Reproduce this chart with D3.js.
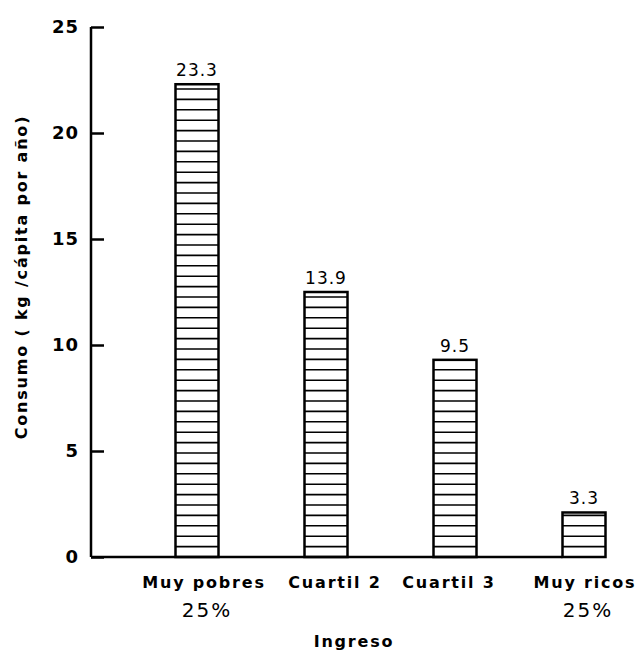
<!DOCTYPE html>
<html lang="es">
<head>
    <meta charset="UTF-8">
    <title>Consumo por ingreso</title>
    <script src="https://d3js.org/d3.v7.min.js"></script>
    <style>
        body { margin: 0; background: #fff; }
        text { font-family: "DejaVu Sans", "Liberation Sans", sans-serif; fill: #000; }
    </style>
</head>
<body>
<div id="chart"></div>
<script>
    // categories and values
    var categories = ["Muy pobres", "Cuartil 2", "Cuartil 3", "Muy ricos"];
    var subLabels = ["25%", "", "", "25%"];
    var printedValues = ["23.3", "13.9", "9.5", "3.3"];   // numbers written over the bars
    var barHeights = [22.3, 12.5, 9.3, 2.1];              // bar tops as drawn
    var yTicks = [0, 5, 10, 15, 20, 25];

    var width = 637, height = 650;

    var svg = d3.select("#chart").append("svg")
        .attr("width", width)
        .attr("height", height);

    var y = d3.scaleLinear().domain([0, 25]).range([557, 27]);
    var x = d3.scalePoint().domain(categories).range([197, 584]);
    var barW = 43;
    var axisX = 91;

    // y axis with ticks pointing inward
    var yAxis = d3.axisRight(y).tickValues(yTicks).tickSize(13).tickFormat("");
    var gy = svg.append("g").attr("transform", "translate(" + axisX + ",0)").call(yAxis);
    gy.select(".domain").attr("d", "M0," + y(25) + "V" + y(0)).attr("stroke", "#000").attr("stroke-width", 2.5);
    gy.selectAll(".tick line").attr("stroke", "#000").attr("stroke-width", 2.5);

    svg.selectAll(".ylab")
        .data(yTicks)
        .enter().append("text")
        .attr("class", "ylab")
        .attr("x", axisX - 12)
        .attr("y", function(d) { return y(d); })
        .attr("dy", "0.35em")
        .attr("text-anchor", "end")
        .style("font-size", "18px")
        .style("font-weight", "bold")
        .style("letter-spacing", "1px")
        .text(function(d) { return d; });

    // baseline: from axis to the last bar
    svg.append("line")
        .attr("x1", axisX).attr("x2", x(categories[3]) - barW / 2)
        .attr("y1", y(0)).attr("y2", y(0))
        .attr("stroke", "#000").attr("stroke-width", 2.5);

    // bars with horizontal stripes
    var stripeGap = 10.4;
    var bars = svg.selectAll(".bar")
        .data(categories)
        .enter().append("g")
        .attr("class", "bar");

    bars.each(function(c, i) {
        var g = d3.select(this);
        var x0 = x(c) - barW / 2;
        var top = y(barHeights[i]);
        var bottom = y(0);
        var n = Math.floor((bottom - top) / stripeGap);
        g.selectAll("line")
            .data(d3.range(1, n + 1))
            .enter().append("line")
            .attr("x1", x0).attr("x2", x0 + barW)
            .attr("y1", function(k) { return bottom - k * stripeGap; })
            .attr("y2", function(k) { return bottom - k * stripeGap; })
            .attr("stroke", "#000").attr("stroke-width", 1.6);
        g.append("rect")
            .attr("x", x0).attr("y", top)
            .attr("width", barW).attr("height", bottom - top)
            .attr("fill", "none").attr("stroke", "#000").attr("stroke-width", 2.5);
    });

    // value labels
    svg.selectAll(".val")
        .data(categories)
        .enter().append("text")
        .attr("class", "val")
        .attr("x", function(c) { return x(c); })
        .attr("y", function(c, i) { return y(barHeights[i]) - 8; })
        .attr("text-anchor", "middle")
        .style("font-size", "17px")
        .style("letter-spacing", "1px")
        .text(function(c, i) { return printedValues[i]; });

    // category labels
    var labOffset = [7, 9, -6, 1];
    svg.selectAll(".cat")
        .data(categories)
        .enter().append("text")
        .attr("class", "cat")
        .attr("x", function(c, i) { return x(c) + labOffset[i]; })
        .attr("y", 588)
        .attr("text-anchor", "middle")
        .style("font-size", "16px")
        .style("font-weight", "bold")
        .style("letter-spacing", "1.8px")
        .text(function(c) { return c; });

    svg.selectAll(".sub")
        .data(categories)
        .enter().append("text")
        .attr("class", "sub")
        .attr("x", function(c, i) { return x(c) + labOffset[i] + 3; })
        .attr("y", 617)
        .attr("text-anchor", "middle")
        .style("font-size", "20px")
        .style("letter-spacing", "2px")
        .text(function(c, i) { return subLabels[i]; });

    // axis titles
    svg.append("text")
        .attr("x", 354).attr("y", 647)
        .attr("text-anchor", "middle")
        .style("font-size", "16px")
        .style("font-weight", "bold")
        .style("letter-spacing", "1.8px")
        .text("Ingreso");

    svg.append("text")
        .attr("transform", "translate(27,277) rotate(-90)")
        .attr("text-anchor", "middle")
        .style("font-size", "16px")
        .style("font-weight", "bold")
        .style("letter-spacing", "1.8px")
        .text("Consumo ( kg /cápita  por año)");
</script>
</body>
</html>
